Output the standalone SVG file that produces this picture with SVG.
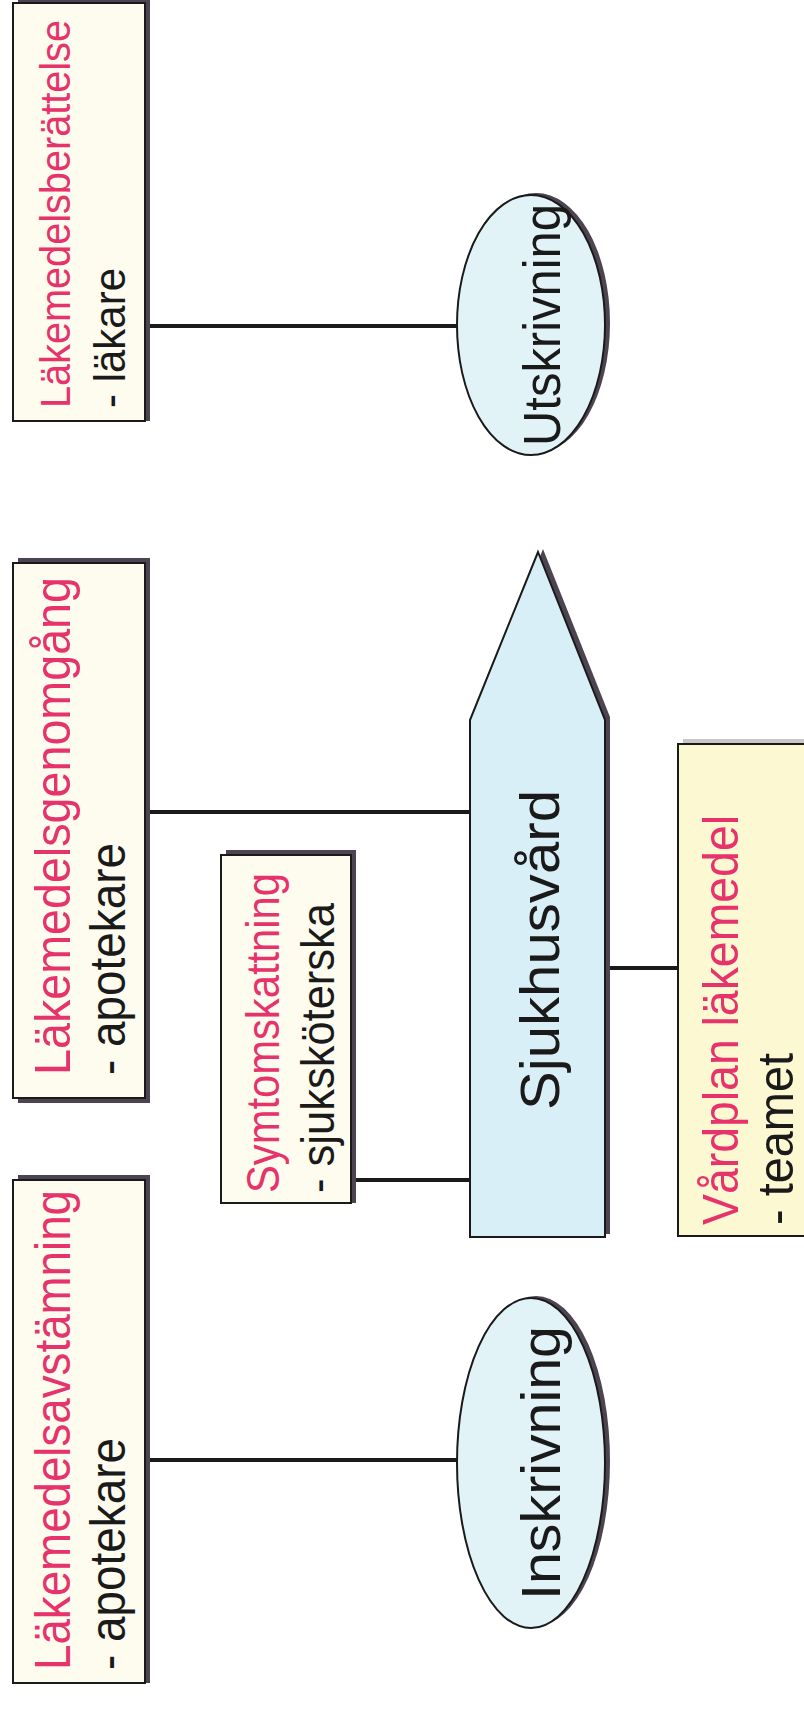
<svg xmlns="http://www.w3.org/2000/svg" width="804" height="1715" viewBox="0 0 804 1715">
<style>
.box{fill:#fdfcee;stroke:#1a1a1a;stroke-width:2}
.boxy{fill:#fbf8d2;stroke:#1a1a1a;stroke-width:2}
.sh{fill:#4d4452}
.blue{fill:#e2f3f8;stroke:#1a1a1a;stroke-width:2}
.red{fill:#e6336c;font-family:"Liberation Sans",Arial,sans-serif;font-size:50px}
.blk{fill:#1a1a1a;font-family:"Liberation Sans",Arial,sans-serif;font-size:50px}
.big{fill:#1a1a1a;font-family:"Liberation Sans",Arial,sans-serif;font-size:56px}
.conn line{stroke:#1a1a1a;stroke-width:4}
</style>
<rect width="804" height="1715" fill="#ffffff"/>
<g class="conn">
<line x1="150" y1="326" x2="458" y2="326"/>
<line x1="150" y1="812" x2="471" y2="812"/>
<line x1="352" y1="1180" x2="471" y2="1180"/>
<line x1="150" y1="1460" x2="458" y2="1460"/>
<line x1="606" y1="968" x2="678" y2="968"/>
</g>
<g id="n-berattelse">
<rect class="sh" x="18" y="-2" width="132" height="423"/>
<rect class="box" x="13" y="3" width="132" height="418"/>
<text class="red" transform="translate(70,408) rotate(-90)" textLength="388" lengthAdjust="spacingAndGlyphs" style="font-size:42px">Läkemedelsberättelse</text>
<text class="blk" transform="translate(125,408) rotate(-90)" textLength="140" lengthAdjust="spacingAndGlyphs" style="font-size:44px">- läkare</text>
</g>
<g id="n-genomgang">
<rect class="sh" x="18" y="558" width="132" height="545"/>
<rect class="box" x="13" y="563" width="132" height="535"/>
<text class="red" transform="translate(70,1075) rotate(-90)" textLength="498" lengthAdjust="spacingAndGlyphs">Läkemedelsgenomgång</text>
<text class="blk" transform="translate(125,1075) rotate(-90)" textLength="232" lengthAdjust="spacingAndGlyphs">- apotekare</text>
</g>
<g id="n-avstamning">
<rect class="sh" x="18" y="1175" width="132" height="508"/>
<rect class="box" x="13" y="1180" width="132" height="503"/>
<text class="red" transform="translate(70,1670) rotate(-90)" textLength="480" lengthAdjust="spacingAndGlyphs">Läkemedelsavstämning</text>
<text class="blk" transform="translate(125,1670) rotate(-90)" textLength="232" lengthAdjust="spacingAndGlyphs">- apotekare</text>
</g>
<g id="n-symtom">
<rect class="sh" x="226" y="850" width="130" height="353"/>
<rect class="box" x="221" y="855" width="130" height="348"/>
<text class="red" transform="translate(279,1193) rotate(-90)" textLength="320" lengthAdjust="spacingAndGlyphs" style="font-size:46px">Symtomskattning</text>
<text class="blk" transform="translate(334,1193) rotate(-90)" textLength="290" lengthAdjust="spacingAndGlyphs" style="font-size:46px">- sjuksköterska</text>
</g>
<g id="n-sjukhusvard">
<polygon class="sh" points="543,549 610,717 610,1234 475,1234 475,717"/>
<polygon class="blue" points="538,552 605,720 605,1237 470,1237 470,720" style="fill:#d9eff7"/>
<text class="big" transform="translate(559,950) rotate(-90)" text-anchor="middle" textLength="320" lengthAdjust="spacingAndGlyphs">Sjukhusvård</text>
</g>
<g id="n-vardplan">
<rect x="683" y="739" width="130" height="492" fill="#c8c8c8"/>
<rect class="boxy" x="678" y="744" width="140" height="492"/>
<text class="red" transform="translate(738,1225) rotate(-90)" textLength="410" lengthAdjust="spacingAndGlyphs">Vårdplan läkemedel</text>
<text class="blk" transform="translate(793,1225) rotate(-90)" textLength="172" lengthAdjust="spacingAndGlyphs">- teamet</text>
</g>
<g id="n-inskrivning">
<ellipse class="sh" cx="536" cy="1461" rx="74" ry="165"/>
<ellipse class="blue" cx="531" cy="1463" rx="74" ry="165"/>
<text class="big" transform="translate(560,1463) rotate(-90)" text-anchor="middle" textLength="274" lengthAdjust="spacingAndGlyphs">Inskrivning</text>
</g>
<g id="n-utskrivning">
<ellipse class="sh" cx="536" cy="323" rx="74" ry="130"/>
<ellipse class="blue" cx="531" cy="325" rx="74" ry="130"/>
<text class="big" transform="translate(560,325) rotate(-90)" text-anchor="middle" textLength="242" lengthAdjust="spacingAndGlyphs" style="font-size:52px">Utskrivning</text>
</g>
</svg>
